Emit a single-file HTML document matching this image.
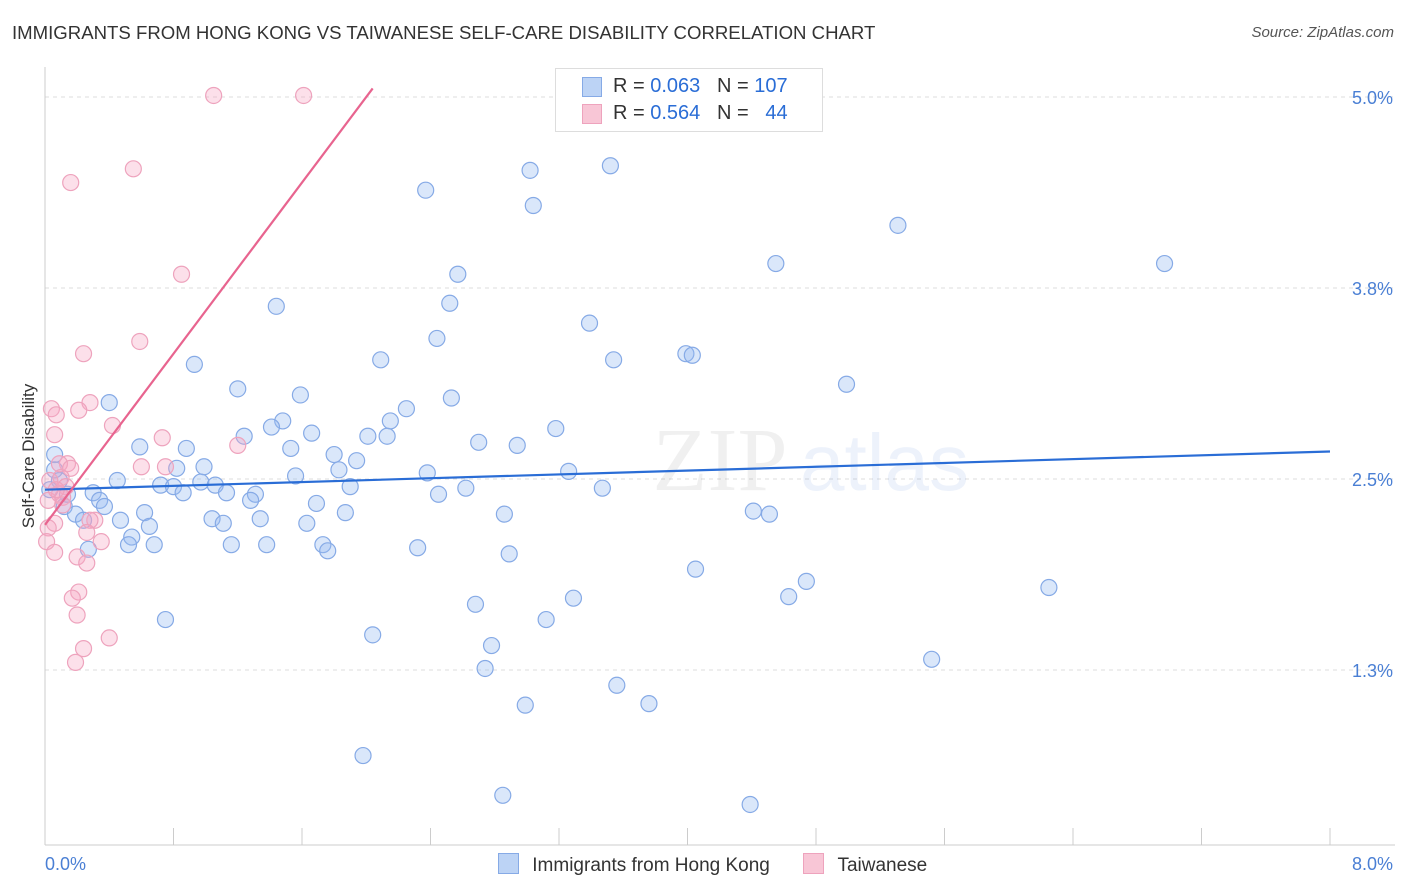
<!DOCTYPE html>
<html><head><meta charset="utf-8"><style>
body{margin:0;background:#fff;font-family:"Liberation Sans",sans-serif;}
#wrap{position:relative;width:1406px;height:892px;overflow:hidden;}
.t{position:absolute;white-space:nowrap;}
</style></head><body>
<div id="wrap">
<div class="t" style="left:12px;top:22px;font-size:18.6px;color:#333;">IMMIGRANTS FROM HONG KONG VS TAIWANESE SELF-CARE DISABILITY CORRELATION CHART</div>
<div class="t" style="right:12px;top:24px;font-size:15px;color:#555;font-style:italic;">Source: ZipAtlas.com</div>
<svg id="plot" width="1406" height="892" style="position:absolute;left:0;top:0"></svg>
</div>
<script>
const xTicks=[0,0.8,1.6,2.4,3.2,4.0,4.8,5.6,6.4,7.2,8.0];
const yTicks=[1.25,2.5,3.75,5.0];
const yTickLabels=["1.3%","2.5%","3.8%","5.0%"];
const xTickLabels=["0.0%","8.0%"];
const blueX=[3.02,3.52,2.37,3.04,5.31,4.55,6.97,2.57,1.44,2.52,3.39,2.44,3.99,4.03,3.54,0.93,2.09,4.99,1.20,1.59,2.53,0.40,2.25,1.48,2.15,1.41,3.18,1.66,1.24,2.01,2.13,0.59,0.88,1.53,2.70,2.94,1.80,1.94,0.82,0.99,1.83,3.26,2.38,0.45,1.56,0.97,1.06,0.72,0.80,1.90,2.62,3.47,0.86,1.13,0.30,1.31,2.45,1.28,0.34,0.37,1.69,0.12,4.41,4.51,0.62,1.87,2.86,0.19,0.24,0.47,1.04,1.34,1.11,1.63,0.65,0.54,0.52,0.68,1.16,1.38,1.73,0.27,1.76,2.32,2.89,4.05,4.74,6.25,3.29,4.63,2.68,3.12,0.75,2.04,2.78,5.52,2.74,3.56,3.76,2.99,1.98,2.85,4.39,0.06,0.09,0.03,0.14,0.06];
const blueY=[4.52,4.55,4.39,4.29,4.16,3.91,3.91,3.84,3.63,3.65,3.52,3.42,3.32,3.31,3.28,3.25,3.28,3.12,3.09,3.05,3.03,3.00,2.96,2.88,2.88,2.84,2.83,2.80,2.78,2.78,2.78,2.71,2.70,2.70,2.74,2.72,2.66,2.62,2.57,2.58,2.56,2.55,2.54,2.49,2.52,2.48,2.46,2.46,2.45,2.45,2.44,2.44,2.41,2.41,2.41,2.40,2.40,2.36,2.36,2.32,2.34,2.32,2.29,2.27,2.28,2.28,2.27,2.27,2.23,2.23,2.24,2.24,2.21,2.21,2.19,2.12,2.07,2.07,2.07,2.07,2.07,2.04,2.03,2.05,2.01,1.91,1.83,1.79,1.72,1.73,1.68,1.58,1.58,1.48,1.41,1.32,1.26,1.15,1.03,1.02,0.69,0.43,0.37,2.66,2.49,2.43,2.40,2.56];
const pinkX=[1.05,1.61,0.55,0.16,0.85,0.59,0.24,0.28,0.21,0.04,0.07,0.42,0.06,0.73,1.20,0.14,0.09,0.60,0.75,0.16,0.10,0.13,0.09,0.11,0.02,0.31,0.28,0.06,0.02,0.26,0.35,0.01,0.06,0.20,0.26,0.21,0.17,0.20,0.40,0.24,0.19,0.03,0.07,0.11];
const pinkY=[5.01,5.01,4.53,4.44,3.84,3.40,3.32,3.00,2.95,2.96,2.92,2.85,2.79,2.77,2.72,2.60,2.60,2.58,2.58,2.57,2.51,2.45,2.40,2.38,2.36,2.23,2.23,2.21,2.18,2.15,2.09,2.09,2.02,1.99,1.95,1.76,1.72,1.61,1.46,1.39,1.30,2.49,2.43,2.33];
const blueTrend=[2.43,2.68];   // value at x=0, x=8
const pinkTrend=[2.20,1.40];   // intercept, slope
const pinkTrendEnd=2.04;

const X0=45,X1=1330;
const sx=v=>X0+(v/8)*(X1-X0);
const sy=v=>670-(v-1.25)*152.8;
const NS="http://www.w3.org/2000/svg";
const svg=document.getElementById('plot');
function mk(tag,attrs,parent){const e=document.createElementNS(NS,tag);for(const k in attrs)e.setAttribute(k,attrs[k]);(parent||svg).appendChild(e);return e;}

yTicks.forEach((v,i)=>{
  const g=mk('line',{x1:X0,x2:1395,y1:sy(v),y2:sy(v),stroke:'#dcdcdc','stroke-dasharray':'4,4'});
  
  
  const t=mk('text',{x:1393,y:sy(v)+7,'text-anchor':'end','font-size':18,fill:'#4a7fd4','font-family':'Liberation Sans, sans-serif'});
  t.textContent=yTickLabels[i];
  
  
});
const ax=mk('line',{x1:X0,x2:X0,y1:67,y2:845,stroke:'#ccc'});


const bx=mk('line',{x1:X0,x2:1395,y1:845,y2:845,stroke:'#ccc'});


xTicks.forEach(v=>{
  const l=mk('line',{x1:sx(v),x2:sx(v),y1:828,y2:845,stroke:'#ccc'});
  
  
});
[[0,'start',45],[8,'end',1393]].forEach((d,i)=>{
  const t=mk('text',{x:d[2],y:870,'text-anchor':d[1],'font-size':18,fill:'#4a7fd4','font-family':'Liberation Sans, sans-serif'});
  t.textContent=xTickLabels[i];
  
  
});
const yt=mk('text',{x:34,y:456,transform:'rotate(-90 34 456)','text-anchor':'middle','font-size':17,fill:'#333','font-family':'Liberation Sans, sans-serif'});
yt.textContent='Self-Care Disability';


const wm=mk('text',{x:720,y:490,'text-anchor':'middle','font-size':90,fill:'#000','fill-opacity':0.06,'font-family':'Liberation Serif, serif'});
wm.textContent='ZIP';


const wm2=mk('text',{x:800,y:490,'text-anchor':'start','font-size':80,fill:'#4a7fd4','fill-opacity':0.1,'font-family':'Liberation Sans, sans-serif'});
wm2.textContent='atlas';



blueX.forEach((x,i)=>{
  const c=mk('circle',{cx:sx(x),cy:sy(blueY[i]),r:8,fill:'rgba(150,185,240,0.35)',stroke:'#86aae6','stroke-width':1.2});
  
  
});
pinkX.forEach((x,i)=>{
  const c=mk('circle',{cx:sx(x),cy:sy(pinkY[i]),r:8,fill:'rgba(245,165,195,0.35)',stroke:'#eea3bd','stroke-width':1.2});
  
  
});
const bl=mk('line',{x1:sx(0),y1:sy(blueTrend[0]),x2:sx(8),y2:sy(blueTrend[1]),stroke:'#2a6dd6','stroke-width':2.2});


const pl=mk('line',{x1:sx(0),y1:sy(pinkTrend[0]),x2:sx(pinkTrendEnd),y2:sy(pinkTrend[0]+pinkTrend[1]*pinkTrendEnd),stroke:'#e8648f','stroke-width':2.2});


</script>
<div class="t" style="left:555px;top:68px;width:266px;height:62px;border:1px solid #ddd;background:#fff;font-size:20px;color:#333;">
  <div style="position:absolute;left:26px;top:8px;width:18px;height:18px;background:#bcd3f5;border:1px solid #86aae6;"></div>
  <div style="position:absolute;left:57px;top:6px;">R = <span style="color:#2a6dd6">0.063</span>&nbsp;&nbsp;&nbsp;N = <span style="color:#2a6dd6">107</span></div>
  <div style="position:absolute;left:26px;top:35px;width:18px;height:18px;background:#f8c6d6;border:1px solid #eea3bd;"></div>
  <div style="position:absolute;left:57px;top:33px;">R = <span style="color:#2a6dd6">0.564</span>&nbsp;&nbsp;&nbsp;N = &nbsp;&nbsp;<span style="color:#2a6dd6">44</span></div>
</div>
<div class="t" style="left:498px;top:853px;font-size:19px;color:#333;">
  <span style="display:inline-block;width:19px;height:19px;background:#bcd3f5;border:1px solid #86aae6;vertical-align:-3px;"></span>
  <span style="margin-left:8px;">Immigrants from Hong Kong</span>
  <span style="display:inline-block;width:19px;height:19px;background:#f8c6d6;border:1px solid #eea3bd;vertical-align:-3px;margin-left:28px;"></span>
  <span style="margin-left:8px;">Taiwanese</span>
</div>
</body></html>
